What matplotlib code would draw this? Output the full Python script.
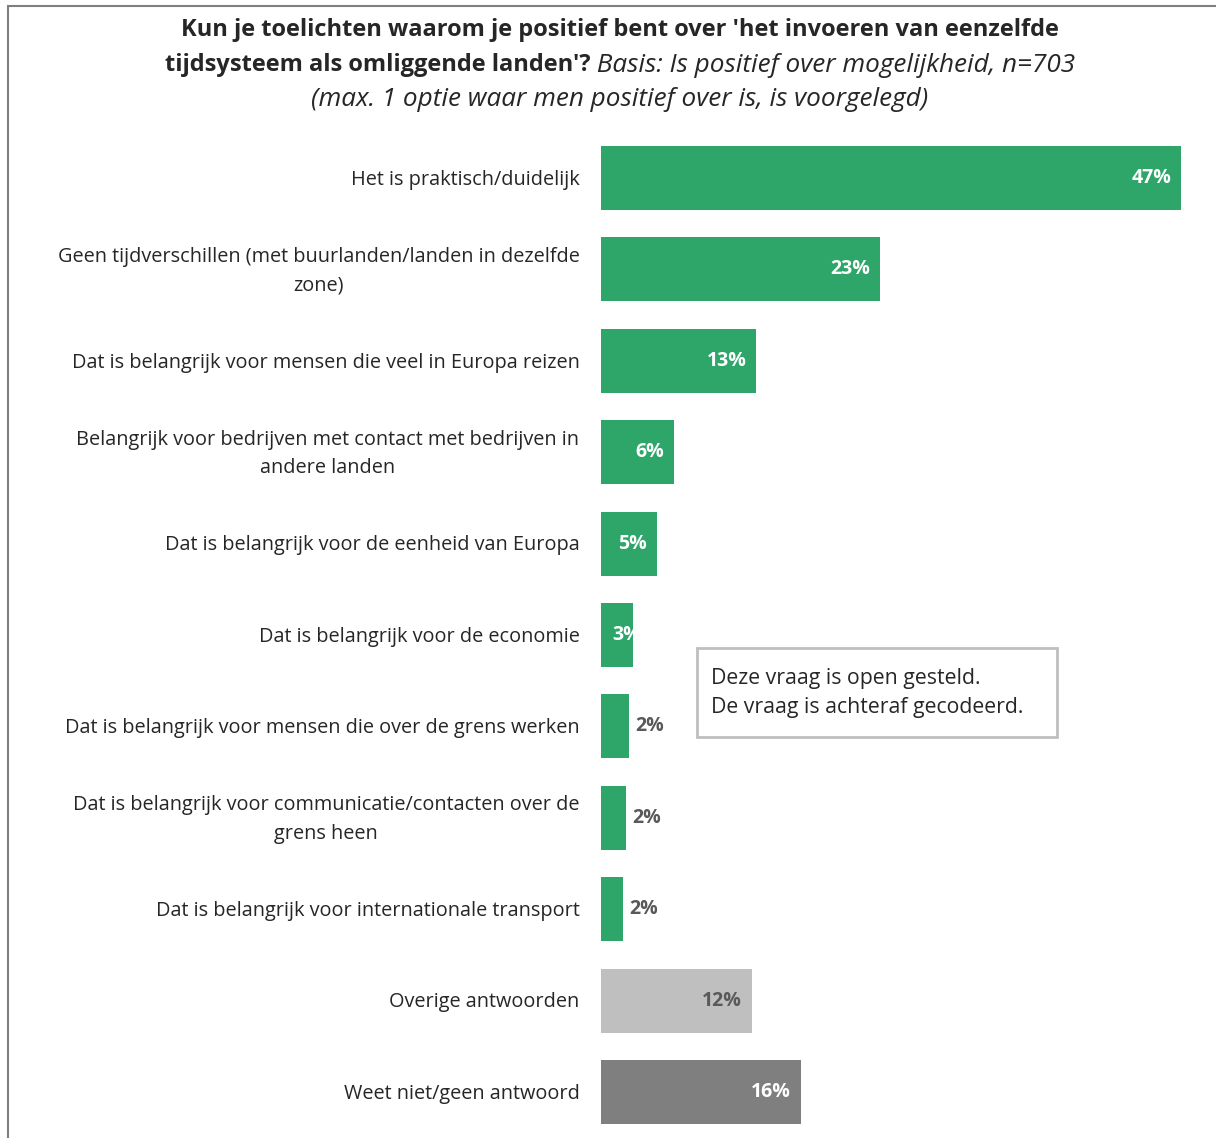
import matplotlib
matplotlib.use("Agg")
import matplotlib.pyplot as plt
from matplotlib.patches import Rectangle

plt.rcParams['font.family'] = ['Open Sans', 'DejaVu Sans']

categories = [
    "Het is praktisch/duidelijk",
    "Geen tijdverschillen (met buurlanden/landen in dezelfde\nzone)",
    "Dat is belangrijk voor mensen die veel in Europa reizen",
    "Belangrijk voor bedrijven met contact met bedrijven in\nandere landen",
    "Dat is belangrijk voor de eenheid van Europa",
    "Dat is belangrijk voor de economie",
    "Dat is belangrijk voor mensen die over de grens werken",
    "Dat is belangrijk voor communicatie/contacten over de\ngrens heen",
    "Dat is belangrijk voor internationale transport",
    "Overige antwoorden",
    "Weet niet/geen antwoord",
]
values = [47.0, 22.6, 12.6, 5.9, 4.5, 2.6, 2.3, 2.0, 1.8, 12.2, 16.2]
labels = ["47%", "23%", "13%", "6%", "5%", "3%", "2%", "2%", "2%", "12%", "16%"]
label_pos = ["in", "in", "in", "in", "in", "in", "out", "out", "out", "in", "in"]

green = "#2EA66A"
colors = [green] * 9 + ["#BFBFBF", "#7F7F7F"]
label_colors = ["white"] * 9 + ["#595959", "white"]

W, H = 1216, 1138
fig = plt.figure(figsize=(W / 100, H / 100), dpi=100)

# frame around the slide
fig.patches.append(Rectangle((8 / W, -0.1), 1.2, 1 - 6 / H + 0.1, transform=fig.transFigure,
                             fill=False, edgecolor="#7F7F7F", linewidth=1.5))

# axes: x from px 601, 12.34 px per percent
ax_left, ax_top, ax_bot = 601, 132, 1138
ax = fig.add_axes([ax_left / W, 1 - ax_bot / H, (W - ax_left) / W, (ax_bot - ax_top) / H])
ax.set_xlim(0, (W - ax_left) / 12.34)
n = len(values)
ax.set_ylim(n - 0.497, -0.503)
ypos = list(range(n))
ax.barh(ypos, values, height=0.7, color=colors)
ax.axis("off")

for y, v, lab, pos, lc in zip(ypos, values, labels, label_pos, label_colors):
    if pos == "out":
        ax.text(v + 0.5, y, lab, ha="left", va="center", fontsize=14,
                fontweight="bold", color="#595959")
    elif v < 4:
        ax.text(0.9, y, lab, ha="left", va="center", fontsize=14,
                fontweight="bold", color=lc)
    else:
        ax.text(v - 0.8, y, lab, ha="right", va="center", fontsize=14,
                fontweight="bold", color=lc)

for y, cat in zip(ypos, categories):
    ax.text(-1.75, y + 0.02, cat, ha="right", va="center", fontsize=14.3, color="#262626",
            multialignment="center", linespacing=1.58)

# title
fig.text(620 / W, 1 - 30 / H,
         "Kun je toelichten waarom je positief bent over 'het invoeren van eenzelfde",
         ha="center", va="center", fontsize=17, fontweight="bold", color="#262626")
t_bold = fig.text(0, 1 - 65 / H, "tijdsysteem als omliggende landen'?", ha="left", va="center",
                  fontsize=17, fontweight="bold", color="#262626")
t_ital = fig.text(0, 1 - 65 / H, " Basis: Is positief over mogelijkheid, n=703", ha="left",
                  va="center", fontsize=18.8, fontstyle="italic", color="#262626")
fig.text(620 / W, 1 - 100 / H, "(max. 1 optie waar men positief over is, is voorgelegd)",
         ha="center", va="center", fontsize=18.8, fontstyle="italic", color="#262626")
fig.canvas.draw()
r = fig.canvas.get_renderer()
wb = t_bold.get_window_extent(r).width
wi = t_ital.get_window_extent(r).width
x0 = 620 - (wb + wi) / 2
t_bold.set_x(x0 / W)
t_ital.set_x((x0 + wb) / W)

# note box
fig.patches.append(Rectangle((697 / W, 1 - 737 / H), 360 / W, 89 / H, transform=fig.transFigure,
                             fill=True, facecolor="white", edgecolor="#BFBFBF", linewidth=2))
fig.text(711 / W, 1 - 693 / H, "Deze vraag is open gesteld.\nDe vraag is achteraf gecodeerd.",
         ha="left", va="center", fontsize=15.3, color="#262626", linespacing=1.45)

fig.savefig("out.png", dpi=100)
